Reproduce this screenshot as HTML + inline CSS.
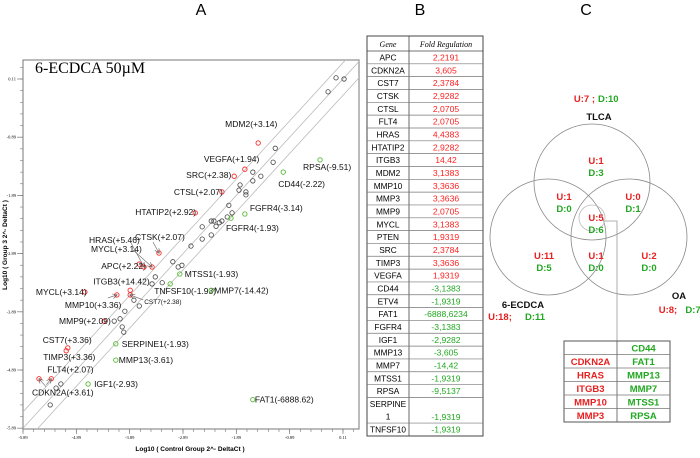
<!DOCTYPE html>
<html><head><meta charset="utf-8"><style>
html,body{margin:0;padding:0;background:#fff;width:700px;height:458px;overflow:hidden;position:relative}
svg{display:block;position:absolute;left:0;top:0;font-family:"Liberation Sans",Arial,sans-serif}
</style></head><body>
<svg id="fig" width="700" height="458" viewBox="0 0 700 458" xmlns="http://www.w3.org/2000/svg">
<defs><clipPath id="pc"><rect x="23" y="60" width="336" height="369"/></clipPath>
<marker id="ah" viewBox="0 0 10 10" refX="9" refY="5" markerUnits="userSpaceOnUse" markerWidth="5" markerHeight="5" orient="auto"><path d="M0,0 L10,5 L0,10" fill="none" stroke="#555" stroke-width="1.2"/></marker></defs>
<text x="201" y="15" font-size="16" text-anchor="middle">A</text>
<text x="420" y="15" font-size="16" text-anchor="middle">B</text>
<text x="586" y="15" font-size="16" text-anchor="middle">C</text>
<g id="chart"></g>
<g id="tableB"></g>
<g id="venn"></g>
</svg>
<script>
// ---- Panel A data ----
const ticks=[-5.89,-4.89,-3.89,-2.89,-1.89,-0.89,0.11];
const tickLabels=["-5.89","-4.89","-3.89","-2.89","-1.89","-0.89","0.11"];
const blackX=[-0.02,0.13,-0.17,-1.16,-1.20,-1.58,-1.43,-1.82,-1.84,-1.71,-1.71,-1.58,-2.03,-1.97,-2.06,-2.16,-2.21,-2.27,-2.36,-2.31,-2.53,-2.53,-2.36,-2.74,-3.08,-2.98,-2.91,-3.41,-3.47,-3.28,-3.81,-3.71,-3.98,-4.07,-4.18,-4.03,-4.00,-5.18,-5.27,-5.38];
const blackY=[0.13,0.11,-0.11,-1.08,-1.32,-1.49,-1.56,-1.71,-1.80,-1.83,-1.88,-1.64,-2.06,-2.19,-2.26,-2.33,-2.36,-2.42,-2.33,-2.33,-2.43,-2.64,-2.57,-2.76,-3.03,-3.12,-3.09,-3.29,-3.41,-3.39,-3.69,-3.79,-3.88,-4.01,-4.05,-4.15,-4.24,-5.13,-5.20,-5.49];
const redLabels=["MDM2(+3.14)","VEGFA(+1.94)","SRC(+2.38)","CTSL(+2.07)","HTATIP2(+2.92)","CTSK(+2.07)","APC(+2.22)","HRAS(+5.46)","MYCL(+3.14)","MYCL(+3.14)","MMP10(+3.36)","ITGB3(+14.42)","CST7(+2.38)","MMP9(+2.09)","CST7(+3.36)","TIMP3(+3.36)","FLT4(+2.07)","CDKN2A(+3.61)"];
const redX=[-1.48,-1.73,-1.93,-2.16,-2.66,-3.34,-3.71,-3.62,-3.47,-4.73,-4.13,-3.88,-3.88,-4.37,-5.05,-5.08,-5.36,-5.59];
const redY=[-0.99,-1.44,-1.56,-1.83,-2.19,-2.88,-3.07,-3.12,-3.12,-3.55,-3.60,-3.52,-3.60,-4.05,-4.51,-4.56,-5.04,-5.04];
const greenLabels=["RPSA(-9.51)","CD44(-2.22)","FGFR4(-3.14)","FGFR4(-1.93)","MTSS1(-1.93)","TNFSF10(-1.93)","MMP7(-14.42)","SERPINE1(-1.93)","MMP13(-3.61)","IGF1(-2.93)","FAT1(-6888.62)"];
const greenX=[-0.32,-1.01,-1.73,-1.99,-2.95,-3.13,-2.36,-4.15,-4.15,-4.67,-1.58];
const greenY=[-1.28,-1.49,-2.21,-2.28,-3.24,-3.41,-3.52,-4.44,-4.72,-5.13,-5.40];
// label layout offsets (pixels, relative to point): [dx,dy,arrowDx,arrowDy,small]
const redLab=[[-33,-19],[-41,-10],[-48,-1],[-48,0],[-60,-1],[-24,-16,-6,-11],[-38,2],[-55,-27,-13,-24],[-61,-18,-19,-17],[-49,0],[-52,10,-9,3],[-37,-9],[14,6,13,5,1],[-45,0],[-25,-8],[-23,6],[-4,-9,-5,6],[-7,14,7,8]];
const greenLab=[[-17,7],[-5,12],[5,-6],[-5,10],[5,0],[-16,7],[3,0],[6,0],[3,0],[6,0],[2,0]];

const NS="http://www.w3.org/2000/svg";
function mk(p,t,a,txt){const e=document.createElementNS(NS,t);for(const k in a)e.setAttribute(k,a[k]);if(txt!==undefined)e.textContent=txt;p.appendChild(e);return e;}
const xS=v=>23+(v+5.89)*53.33, yS=v=>79+(0.11-v)*58.2;
const C=document.getElementById('chart');
let e=mk(C,'rect',{x:23,y:60,width:336,height:369,fill:'none',stroke:'#777','stroke-width':1});

const diagOffsets=[0.28,0,-0.28];
const dg=mk(C,'g',{'clip-path':'url(#pc)'});
diagOffsets.forEach(o=>{const l=mk(dg,'line',{x1:xS(-7),y1:yS(-7+o),x2:xS(1),y2:yS(1+o),stroke:'#bbb','stroke-width':0.8});

});
for(let v=-5.89;v<=0.45;v+=0.2){const y=yS(v);if(y<60||y>429)continue;mk(C,'line',{x1:20,x2:23,y1:y,y2:y,stroke:'#777','stroke-width':0.6});}
for(let v=-5.89;v<=0.45;v+=0.2){const x=xS(v);if(x>359)continue;mk(C,'line',{x1:x,x2:x,y1:429,y2:432,stroke:'#777','stroke-width':0.6});}
ticks.forEach((t,i)=>{
 const ty=yS(t); if(ty>=60&&ty<=429){mk(C,'line',{x1:17,x2:23,y1:ty,y2:ty,stroke:'#777','stroke-width':0.7});
 const a=mk(C,'text',{x:16,y:ty+1.5,'font-size':4.5,'text-anchor':'end','font-family':'Liberation Serif, serif'},tickLabels[i]);
 }
 const tx=xS(t);mk(C,'line',{x1:tx,x2:tx,y1:429,y2:434,stroke:'#777','stroke-width':0.7});
 const b=mk(C,'text',{x:tx,y:439,'font-size':4.5,'text-anchor':'middle','font-family':'Liberation Serif, serif'},tickLabels[i]);
 
});
e=mk(C,'text',{x:190,y:451,'font-size':6.5,'font-weight':'bold','text-anchor':'middle'},'Log10 ( Control Group 2^- DeltaCt )');

e=mk(C,'text',{x:0,y:0,'font-size':6.5,'font-weight':'bold','text-anchor':'middle',transform:'translate(7,245) rotate(-90)'},'Log10 ( Group 3  2^- DeltaCt )');

e=mk(C,'text',{x:35,y:73,'font-size':16,'font-family':'Liberation Serif, serif'},'6-ECDCA 50\u00b5M');

blackX.forEach((v,i)=>{const c=mk(C,'circle',{cx:xS(v),cy:yS(blackY[i]),r:2.2,fill:'none',stroke:'#444','stroke-width':0.8});

});
function series(X,Y,L,O,col,nm){
 X.forEach((v,i)=>{const px=xS(v),py=yS(Y[i]);const o=O[i];
  const c=mk(C,'circle',{cx:px,cy:py,r:2.2,fill:'none',stroke:col,'stroke-width':0.9});
  
  
  const t=mk(C,'text',{x:px+o[0],y:py+o[1]+3,'font-size':o[4]?6.5:8.5,fill:'#111'},L[i]);
  
  
  if(o.length>2){mk(C,'line',{x1:px+o[2],y1:py+o[3],x2:px,y2:py,stroke:'#666','stroke-width':0.6,'marker-end':'url(#ah)'});}
 });
}
series(redX,redY,redLabels,redLab,'#ff2a2a','upregulated-gene');
series(greenX,greenY,greenLabels,greenLab,'#55bb33','downregulated-gene');

// ---- Panel B table ----
const genes=["APC","CDKN2A","CST7","CTSK","CTSL","FLT4","HRAS","HTATIP2","ITGB3","MDM2","MMP10","MMP3","MMP9","MYCL","PTEN","SRC","TIMP3","VEGFA","CD44","ETV4","FAT1","FGFR4","IGF1","MMP13","MMP7","MTSS1","RPSA","SERPINE1","TNFSF10"];
const folds=["2,2191","3,605","2,3784","2,9282","2,0705","2,0705","4,4383","2,9282","14,42","3,1383","3,3636","3,3636","2,0705","3,1383","1,9319","2,3784","3,3636","1,9319","-3,1383","-1,9319","-6888,6234","-3,1383","-2,9282","-3,605","-14,42","-1,9319","-9,5137","-1,9319","-1,9319"];
const T=document.getElementById('tableB');
const rh=12.83;let y=51;
e=mk(T,'rect',{x:367,y:36,width:116,height:400,fill:'none',stroke:'#444','stroke-width':1});
mk(T,'line',{x1:409,x2:409,y1:36,y2:436,stroke:'#444','stroke-width':0.8});
mk(T,'line',{x1:367,x2:483,y1:51,y2:51,stroke:'#444','stroke-width':0.8});
e=mk(T,'text',{x:388,y:47,'font-size':8,'font-style':'italic','text-anchor':'middle','font-family':'Liberation Serif, serif'},'Gene');

e=mk(T,'text',{x:446,y:47,'font-size':8,'font-style':'italic','text-anchor':'middle','font-family':'Liberation Serif, serif'},'Fold Regulation');

genes.forEach((g,i)=>{const h=g==="SERPINE1"?rh*2:rh;const col=folds[i][0]==='-'?'#22a822':'#ff2020';
 if(g==="SERPINE1"){mk(T,'text',{x:388,y:y+9.5,'font-size':8.3,'text-anchor':'middle'},'SERPINE');mk(T,'text',{x:388,y:y+22,'font-size':8.3,'text-anchor':'middle'},'1');}
 else{const t=mk(T,'text',{x:388,y:y+9.5,'font-size':8.3,'text-anchor':'middle'},g);}
 const f=mk(T,'text',{x:446,y:y+h-3.3,'font-size':8.6,'text-anchor':'middle',fill:col},folds[i]);
 
 y+=h;if(i<genes.length-1)mk(T,'line',{x1:367,x2:483,y1:y,y2:y,stroke:'#777','stroke-width':0.7});
});

// ---- Panel C venn ----
const V=document.getElementById('venn');
[[592,182,'tlca-circle'],[548,237,'ecdca-circle'],[629,237,'oa-circle']].forEach(c=>{const k=mk(V,'circle',{cx:c[0],cy:c[1],r:58,fill:'none',stroke:'#888','stroke-width':0.8});});
mk(V,'circle',{cx:592,cy:218,r:13,fill:'none',stroke:'#bbb','stroke-width':0.8});
mk(V,'polyline',{points:'605,221 617,221 617,341',fill:'none',stroke:'#999','stroke-width':0.8});
function tx(x,y,s,col,sz,anc,name){const t=mk(V,'text',{x:x,y:y,'font-size':sz||9.5,'font-weight':'bold',fill:col,'text-anchor':anc||'middle'},s);return t;}
const R='#e82020',G='#22a822';
tx(595,102,'U:7 ;','#e82020',9.5,'end','tlca-up-total');tx(598,102,'D:10',G,9.5,'start','tlca-down-total');
tx(599,120,'TLCA','#111',9.5,'middle','tlca-label');
[[596,161,'U:1','D:3'],[564,197,'U:1','D:0'],[633,197,'U:0','D:1'],[596,218,'U:5','D:6'],[544,256,'U:11','D:5'],[596,256,'U:1','D:0'],[649,256,'U:2','D:0']].forEach(r=>{tx(r[0],r[1]+3,r[2],R);tx(r[0],r[1]+15,r[3],G);});
tx(523,308,'6-ECDCA','#111',9.5,'middle','ecdca-label');
tx(500,320,'U:18;',R,9.5,'middle','ecdca-up-total');tx(535,320,'D:11',G,9.5,'middle','ecdca-down-total');
tx(679,299,'OA','#111',9.5,'middle','oa-label');
tx(668,313,'U:8;',R,9.5,'middle','oa-up-total');tx(693,313,'D:7',G,9.5,'middle','oa-down-total');
const commonUp=["","CDKN2A","HRAS","ITGB3","MMP10","MMP3"];
const commonDown=["CD44","FAT1","MMP13","MMP7","MTSS1","RPSA"];
mk(V,'rect',{x:564,y:341,width:106,height:81,fill:'#fff',stroke:'#555','stroke-width':1});
mk(V,'line',{x1:617,x2:617,y1:341,y2:422,stroke:'#555','stroke-width':0.8});
commonUp.forEach((g,i)=>{const yy=341+i*13.5;if(i>0)mk(V,'line',{x1:564,x2:670,y1:yy,y2:yy,stroke:'#777','stroke-width':0.7});
 tx(590.5,yy+10.5,g,R,9.5,'middle','common-up-gene');tx(643.5,yy+10.5,commonDown[i],G,9.5,'middle','common-down-gene');});
</script>
</body></html>
